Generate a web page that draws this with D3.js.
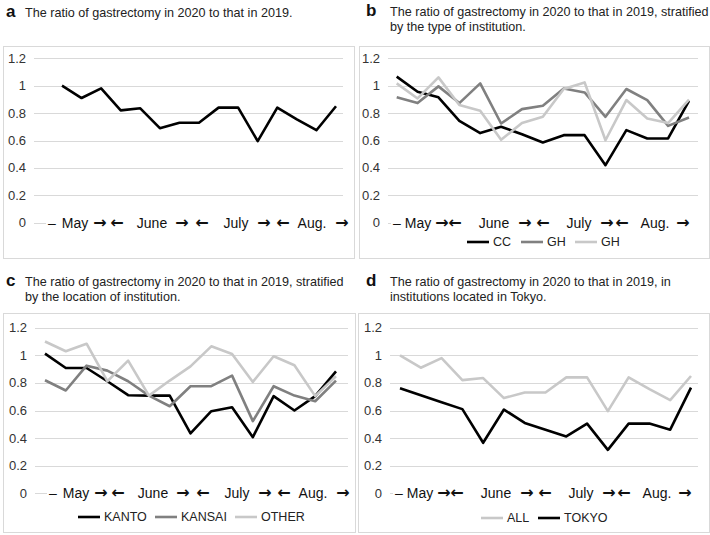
<!DOCTYPE html>
<html>
<head>
<meta charset="utf-8">
<script src="https://cdn.jsdelivr.net/npm/d3@7"></script>
<style>
  body { margin: 0; background: #fff; }
  text { font-family: "Liberation Sans", Arial, sans-serif; }
  text.arrow { font-family: "DejaVu Sans", sans-serif; font-weight: bold; }
</style>
</head>
<body>
<div id="chart"></div>
<script>
// week index along the x axis (May - Aug.)
var weeks = [1, 2, 3, 4, 5, 6, 7, 8, 9, 10, 11, 12, 13, 14, 15];
var yTicks = [0, 0.2, 0.4, 0.6, 0.8, 1, 1.2];
var yTickLabels = ["0", "0.2", "0.4", "0.6", "0.8", "1", "1.2"];
var monthLabels = ["–", "May", "→", "←", "June", "→", "←", "July", "→", "←", "Aug.", "→"];

// ratio 2020 / 2019
var allRatio = [1.00, 0.91, 0.98, 0.82, 0.835, 0.69, 0.73, 0.73, 0.84, 0.84, 0.595, 0.84, 0.755, 0.675, 0.85];
var ccRatio = [1.066, 0.956, 0.915, 0.744, 0.654, 0.70, 0.646, 0.585, 0.639, 0.639, 0.42, 0.676, 0.615, 0.615, 0.89];
var ghRatio = [0.915, 0.873, 0.995, 0.873, 1.017, 0.724, 0.829, 0.854, 0.98, 0.951, 0.773, 0.976, 0.895, 0.707, 0.768];
var gh2Ratio = [1.017, 0.907, 1.061, 0.859, 0.817, 0.605, 0.727, 0.773, 0.976, 1.024, 0.602, 0.895, 0.761, 0.727, 0.898];
var kantoRatio = [1.012, 0.908, 0.908, 0.812, 0.711, 0.708, 0.708, 0.434, 0.595, 0.624, 0.407, 0.704, 0.60, 0.704, 0.884];
var kansaiRatio = [0.819, 0.745, 0.925, 0.889, 0.812, 0.708, 0.631, 0.776, 0.776, 0.853, 0.523, 0.776, 0.708, 0.667, 0.817];
var otherRatio = [1.10, 1.029, 1.084, 0.812, 0.961, 0.708, 0.817, 0.92, 1.065, 1.01, 0.807, 0.993, 0.928, 0.704, 0.848];
var tokyoRatio = [0.761, 0.71, 0.66, 0.61, 0.366, 0.607, 0.51, 0.461, 0.412, 0.505, 0.315, 0.505, 0.505, 0.461, 0.766];

var BLACK = "#000000", DARK = "#808080", LIGHT = "#c8c8c8";

// month label offsets from the plot's left edge (two slightly different layouts)
var labelOffA = [18, 41, 66, 83, 118, 148, 168, 202, 230, 249, 278, 308];
var labelOffB = [9, 30, 54, 67, 106, 137, 155, 191, 219, 234, 267, 295];

var width = 710, height = 535;

var svg = d3.select("#chart")
  .append("svg")
  .attr("width", width)
  .attr("height", height);

var panels = [
  {
    letter: "a", lx: 6, tx: 25, ty: [17],
    title: ["The ratio of gastrectomy in 2020 to that in 2019."],
    box: [3, 46, 351, 212], gx: [34, 343], gy: [222.7, 58.3], px: [62, 336],
    labelOff: labelOffA,
    series: [{ name: "ALL", values: allRatio, color: BLACK }],
    legend: null
  },
  {
    letter: "b", lx: 366, tx: 390, ty: [16, 31],
    title: ["The ratio of gastrectomy in 2020 to that in 2019, stratified", "by the type of institution."],
    box: [359, 46, 350, 212], gx: [388, 698], gy: [222.7, 58.3], px: [396.7, 689],
    labelOff: labelOffB,
    series: [
      { name: "CC", values: ccRatio, color: BLACK },
      { name: "GH", values: ghRatio, color: DARK },
      { name: "GH", values: gh2Ratio, color: LIGHT }
    ],
    legend: { y: 242, x: [467, 521, 575] }
  },
  {
    letter: "c", lx: 6, tx: 25, ty: [286, 301],
    title: ["The ratio of gastrectomy in 2020 to that in 2019, stratified", "by the location of institution."],
    box: [3, 313, 352, 219], gx: [35, 348], gy: [493.3, 327.7], px: [45, 336],
    labelOff: labelOffA,
    series: [
      { name: "KANTO", values: kantoRatio, color: BLACK },
      { name: "KANSAI", values: kansaiRatio, color: DARK },
      { name: "OTHER", values: otherRatio, color: LIGHT }
    ],
    legend: { y: 517, x: [78, 155, 235] }
  },
  {
    letter: "d", lx: 366, tx: 390, ty: [286, 301],
    title: ["The ratio of gastrectomy in 2020 to that in 2019, in", "institutions located in Tokyo."],
    box: [358, 313, 351, 219], gx: [390, 698], gy: [493.3, 327.7], px: [400, 691],
    labelOff: labelOffB,
    series: [
      { name: "ALL", values: allRatio, color: LIGHT },
      { name: "TOKYO", values: tokyoRatio, color: BLACK }
    ],
    legend: { y: 518, x: [481, 538] }
  }
];

panels.forEach(drawPanel);

function isArrow(d) { return d === "→" || d === "←"; }

function drawPanel(p) {
  var g = svg.append("g");

  // panel letter and title
  g.append("text")
    .attr("x", p.lx).attr("y", p.ty[0])
    .attr("font-size", 17).attr("font-weight", "bold")
    .attr("fill", "#111")
    .text(p.letter);
  p.title.forEach(function(line, i) {
    g.append("text")
      .attr("x", p.tx).attr("y", p.ty[i])
      .attr("font-size", 12.6)
      .attr("fill", "#222")
      .text(line);
  });

  // chart frame
  g.append("rect")
    .attr("x", p.box[0] + 0.5).attr("y", p.box[1] + 0.5)
    .attr("width", p.box[2]).attr("height", p.box[3])
    .attr("fill", "none").attr("stroke", "#d9d9d9").attr("stroke-width", 1);

  var x = d3.scalePoint().domain(weeks).range(p.px);
  var y = d3.scaleLinear().domain([0, 1.2]).range(p.gy);

  // gridlines
  g.selectAll(".grid")
    .data(yTicks)
    .enter()
    .append("line")
    .attr("x1", p.gx[0]).attr("x2", p.gx[1])
    .attr("y1", function(d) { return Math.round(y(d)) + 0.5; })
    .attr("y2", function(d) { return Math.round(y(d)) + 0.5; })
    .attr("stroke", "#d9d9d9").attr("stroke-width", 1);

  // y tick labels
  g.selectAll(".ytick")
    .data(yTicks)
    .enter()
    .append("text")
    .attr("x", p.gx[0] - 8)
    .attr("y", function(d) { return y(d); })
    .attr("dy", "0.35em")
    .attr("text-anchor", "end")
    .attr("font-size", 13)
    .attr("fill", "#333")
    .text(function(d, i) { return yTickLabels[i]; });

  // month labels sit on the 0 line, on a white label box
  var labelLeft = p.gx[0] + p.labelOff[0] - 6;
  g.append("rect")
    .attr("x", labelLeft).attr("y", y(0) - 7)
    .attr("width", p.gx[1] - labelLeft + 1).attr("height", 14)
    .attr("fill", "#fff");
  g.selectAll(".month")
    .data(monthLabels)
    .enter()
    .append("text")
    .attr("class", function(d) { return isArrow(d) ? "arrow" : "month"; })
    .attr("x", function(d, i) { return p.gx[0] + p.labelOff[i]; })
    .attr("y", y(0))
    .attr("dy", function(d) { return isArrow(d) ? "0.32em" : "0.36em"; })
    .attr("text-anchor", "middle")
    .attr("font-size", function(d) { return isArrow(d) ? 16 : 14; })
    .attr("fill", "#111")
    .text(function(d) { return d; });

  // series lines
  var line = d3.line()
    .x(function(d, i) { return x(weeks[i]); })
    .y(function(d) { return y(d); });

  p.series.forEach(function(s) {
    g.append("path")
      .datum(s.values)
      .attr("d", line)
      .attr("fill", "none")
      .attr("stroke", s.color)
      .attr("stroke-width", 2.6)
      .attr("stroke-linejoin", "round");
  });

  // legend
  if (p.legend) {
    p.series.forEach(function(s, i) {
      var lx = p.legend.x[i];
      g.append("line")
        .attr("x1", lx).attr("x2", lx + 22)
        .attr("y1", p.legend.y).attr("y2", p.legend.y)
        .attr("stroke", s.color).attr("stroke-width", 2.6);
      g.append("text")
        .attr("x", lx + 26).attr("y", p.legend.y)
        .attr("dy", "0.35em")
        .attr("font-size", 12.5)
        .attr("fill", "#222")
        .text(s.name);
    });
  }
}
</script>
</body>
</html>
